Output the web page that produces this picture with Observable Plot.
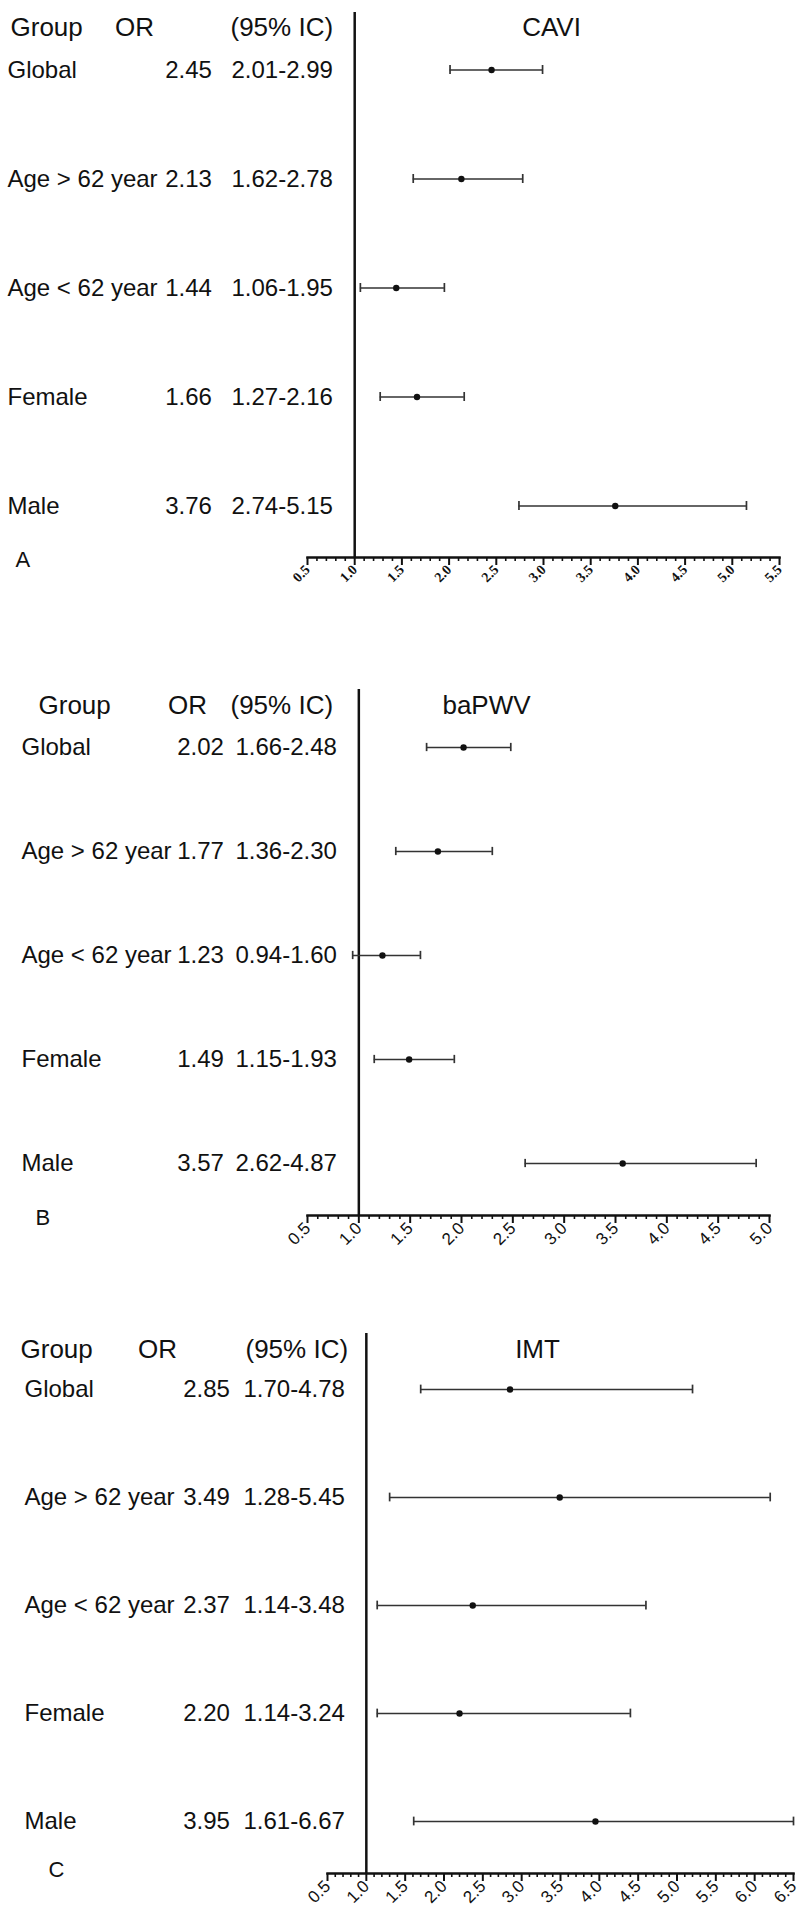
<!DOCTYPE html>
<html>
<head>
<meta charset="utf-8">
<script src="https://cdn.jsdelivr.net/npm/d3@7"></script>
<script src="https://cdn.jsdelivr.net/npm/@observablehq/plot@0.6"></script>
<style>
  body { margin: 0; background: #fff; }
  #root { width: 800px; }
  #root svg { display: block; }
</style>
</head>
<body>
<div id="root"></div>
<script>
// ---------- data ----------
const groups = ["Global", "Age > 62 year", "Age < 62 year", "Female", "Male"];
const headerLabels = ["Group", "OR", "(95% IC)"];
const panelLetters = ["A", "B", "C"];
const panelTitles = ["CAVI", "baPWV", "IMT"];

// A: CAVI
const caviOR = [2.45, 2.13, 1.44, 1.66, 3.76];
const caviLo = [2.01, 1.62, 1.06, 1.27, 2.74];
const caviHi = [2.99, 2.78, 1.95, 2.16, 5.15];
const caviORText = ["2.45", "2.13", "1.44", "1.66", "3.76"];
const caviCIText = ["2.01-2.99", "1.62-2.78", "1.06-1.95", "1.27-2.16", "2.74-5.15"];
const caviTicks = [0.5, 1.0, 1.5, 2.0, 2.5, 3.0, 3.5, 4.0, 4.5, 5.0, 5.5];

// B: baPWV
const bapwvOR = [2.02, 1.77, 1.23, 1.49, 3.57];
const bapwvLo = [1.66, 1.36, 0.94, 1.15, 2.62];
const bapwvHi = [2.48, 2.30, 1.60, 1.93, 4.87];
const bapwvORText = ["2.02", "1.77", "1.23", "1.49", "3.57"];
const bapwvCIText = ["1.66-2.48", "1.36-2.30", "0.94-1.60", "1.15-1.93", "2.62-4.87"];
const bapwvTicks = [0.5, 1.0, 1.5, 2.0, 2.5, 3.0, 3.5, 4.0, 4.5, 5.0];

// C: IMT (bar ends as drawn in the figure)
const imtOR = [2.85, 3.49, 2.37, 2.20, 3.95];
const imtLo = [1.70, 1.30, 1.14, 1.14, 1.61];
const imtHi = [5.20, 6.20, 4.60, 4.40, 6.67];
const imtORText = ["2.85", "3.49", "2.37", "2.20", "3.95"];
const imtCIText = ["1.70-4.78", "1.28-5.45", "1.14-3.48", "1.14-3.24", "1.61-6.67"];
const imtTicks = [0.5, 1.0, 1.5, 2.0, 2.5, 3.0, 3.5, 4.0, 4.5, 5.0, 5.5, 6.0, 6.5];

// ---------- layout ----------
const SANS = "Liberation Sans, Arial, Helvetica, sans-serif";
const SERIF = "Liberation Serif, Times New Roman, serif";

const panels = [
  {
    or: caviOR, lo: caviLo, hi: caviHi, orText: caviORText, ciText: caviCIText, ticks: caviTicks,
    height: 620, marginTop: 12, marginBottom: 63, marginLeft: 307, marginRight: 21,
    yRange: [69, 505], headerY: 17,
    colGroup: 7, colOR: 188, colCI: 231,
    hdrGroup: 10, hdrOR: 134, hdrCI: 230, titleX: 551,
    letterX: 15, letterY: 566,
    tickFont: {fontFamily: SERIF, fontWeight: "bold", fontSize: 14}
  },
  {
    or: bapwvOR, lo: bapwvLo, hi: bapwvHi, orText: bapwvORText, ciText: bapwvCIText, ticks: bapwvTicks,
    height: 650, marginTop: 69, marginBottom: 55, marginLeft: 307, marginRight: 31,
    yRange: [125, 544], headerY: 75,
    colGroup: 21, colOR: 200, colCI: 235,
    hdrGroup: 38, hdrOR: 187, hdrCI: 230, titleX: 486,
    letterX: 35, letterY: 604,
    tickFont: {fontFamily: SANS, fontWeight: "normal", fontSize: 17}
  },
  {
    or: imtOR, lo: imtLo, hi: imtHi, orText: imtORText, ciText: imtCIText, ticks: imtTicks,
    height: 651, marginTop: 63, marginBottom: 48, marginLeft: 327, marginRight: 7,
    yRange: [118, 551], headerY: 69,
    colGroup: 24, colOR: 206, colCI: 243,
    hdrGroup: 20, hdrOR: 157, hdrCI: 245, titleX: 537,
    letterX: 48, letterY: 606,
    tickFont: {fontFamily: SANS, fontWeight: "normal", fontSize: 17}
  }
];

const INK = "#111";
const CAP = 9; // height of the whisker end caps, px

function drawPanel(cfg, idx) {
  const rows = groups.map((g, i) => ({
    group: g, or: cfg.or[i], lo: cfg.lo[i], hi: cfg.hi[i],
    orText: cfg.orText[i], ciText: cfg.ciText[i]
  }));
  const domain = [cfg.ticks[0], cfg.ticks[cfg.ticks.length - 1]];
  const minor = d3.ticks(domain[0], domain[1], Math.round((domain[1] - domain[0]) * 10))
    .filter(v => Math.round(v * 10) % 5 !== 0);
  const L = cfg.marginLeft;
  const frameBottom = cfg.height - cfg.marginBottom;
  const step = (cfg.yRange[1] - cfg.yRange[0]) / (groups.length - 1);
  const bandRange = [cfg.yRange[0] - step / 2, cfg.yRange[1] + step / 2];
  const capInset = (step - CAP) / 2;
  const rowFont = {fontFamily: SANS, fontSize: 24, fill: INK};
  const hdrFont = {fontFamily: SANS, fontSize: 26, fill: INK};
  const hdrDy = cfg.headerY - cfg.marginTop;

  return Plot.plot({
    width: 800,
    height: cfg.height,
    marginTop: cfg.marginTop,
    marginBottom: cfg.marginBottom,
    marginLeft: cfg.marginLeft,
    marginRight: cfg.marginRight,
    style: {background: "#fff", color: INK, overflow: "visible"},
    x: {domain, clamp: true},
    y: {type: "band", domain: groups, range: bandRange, padding: 0, axis: null},
    marks: [
      // null line at OR = 1
      Plot.ruleX([1], {stroke: INK, strokeWidth: 2.5}),
      // horizontal axis line
      Plot.frame({anchor: "bottom", stroke: INK, strokeWidth: 2.5}),
      Plot.axisX(minor, {tickSize: 4, strokeWidth: 1.6, stroke: INK, tickFormat: () => ""}),
      Plot.axisX(cfg.ticks, {
        tickSize: 8, strokeWidth: 2, stroke: INK, tickPadding: 2, tickRotate: -45,
        tickFormat: d3.format(".1f"), fill: INK, label: null, ...cfg.tickFont
      }),
      // confidence intervals
      Plot.ruleY(rows, {y: "group", x1: "lo", x2: "hi", stroke: "#333", strokeWidth: 1.7}),
      Plot.tickX(rows, {x: "lo", y: "group", stroke: "#333", strokeWidth: 1.7, insetTop: capInset, insetBottom: capInset}),
      Plot.tickX(rows, {x: "hi", y: "group", stroke: "#333", strokeWidth: 1.7, insetTop: capInset, insetBottom: capInset}),
      Plot.dot(rows, {x: "or", y: "group", r: 3.2, fill: "#111", stroke: null}),
      // table columns
      Plot.text(rows, {y: "group", text: "group", frameAnchor: "left", dx: cfg.colGroup - L, textAnchor: "start", ...rowFont}),
      Plot.text(rows, {y: "group", text: "orText", frameAnchor: "left", dx: cfg.colOR - L, textAnchor: "middle", ...rowFont}),
      Plot.text(rows, {y: "group", text: "ciText", frameAnchor: "left", dx: cfg.colCI - L, textAnchor: "start", ...rowFont}),
      // headers
      Plot.text([headerLabels[0]], {frameAnchor: "top-left", dx: cfg.hdrGroup - L, dy: hdrDy, textAnchor: "start", ...hdrFont}),
      Plot.text([headerLabels[1]], {frameAnchor: "top-left", dx: cfg.hdrOR - L, dy: hdrDy, textAnchor: "middle", ...hdrFont}),
      Plot.text([headerLabels[2]], {frameAnchor: "top-left", dx: cfg.hdrCI - L, dy: hdrDy, textAnchor: "start", ...hdrFont}),
      Plot.text([panelTitles[idx]], {frameAnchor: "top-left", dx: cfg.titleX - L, dy: hdrDy, textAnchor: "middle", ...hdrFont}),
      // panel letter
      Plot.text([panelLetters[idx]], {frameAnchor: "bottom-left", dx: cfg.letterX - L, dy: cfg.letterY - frameBottom, textAnchor: "start", fontFamily: SANS, fontSize: 22, fill: INK})
    ]
  });
}

const root = document.getElementById("root");
panels.forEach((cfg, i) => root.appendChild(drawPanel(cfg, i)));
</script>
</body>
</html>
